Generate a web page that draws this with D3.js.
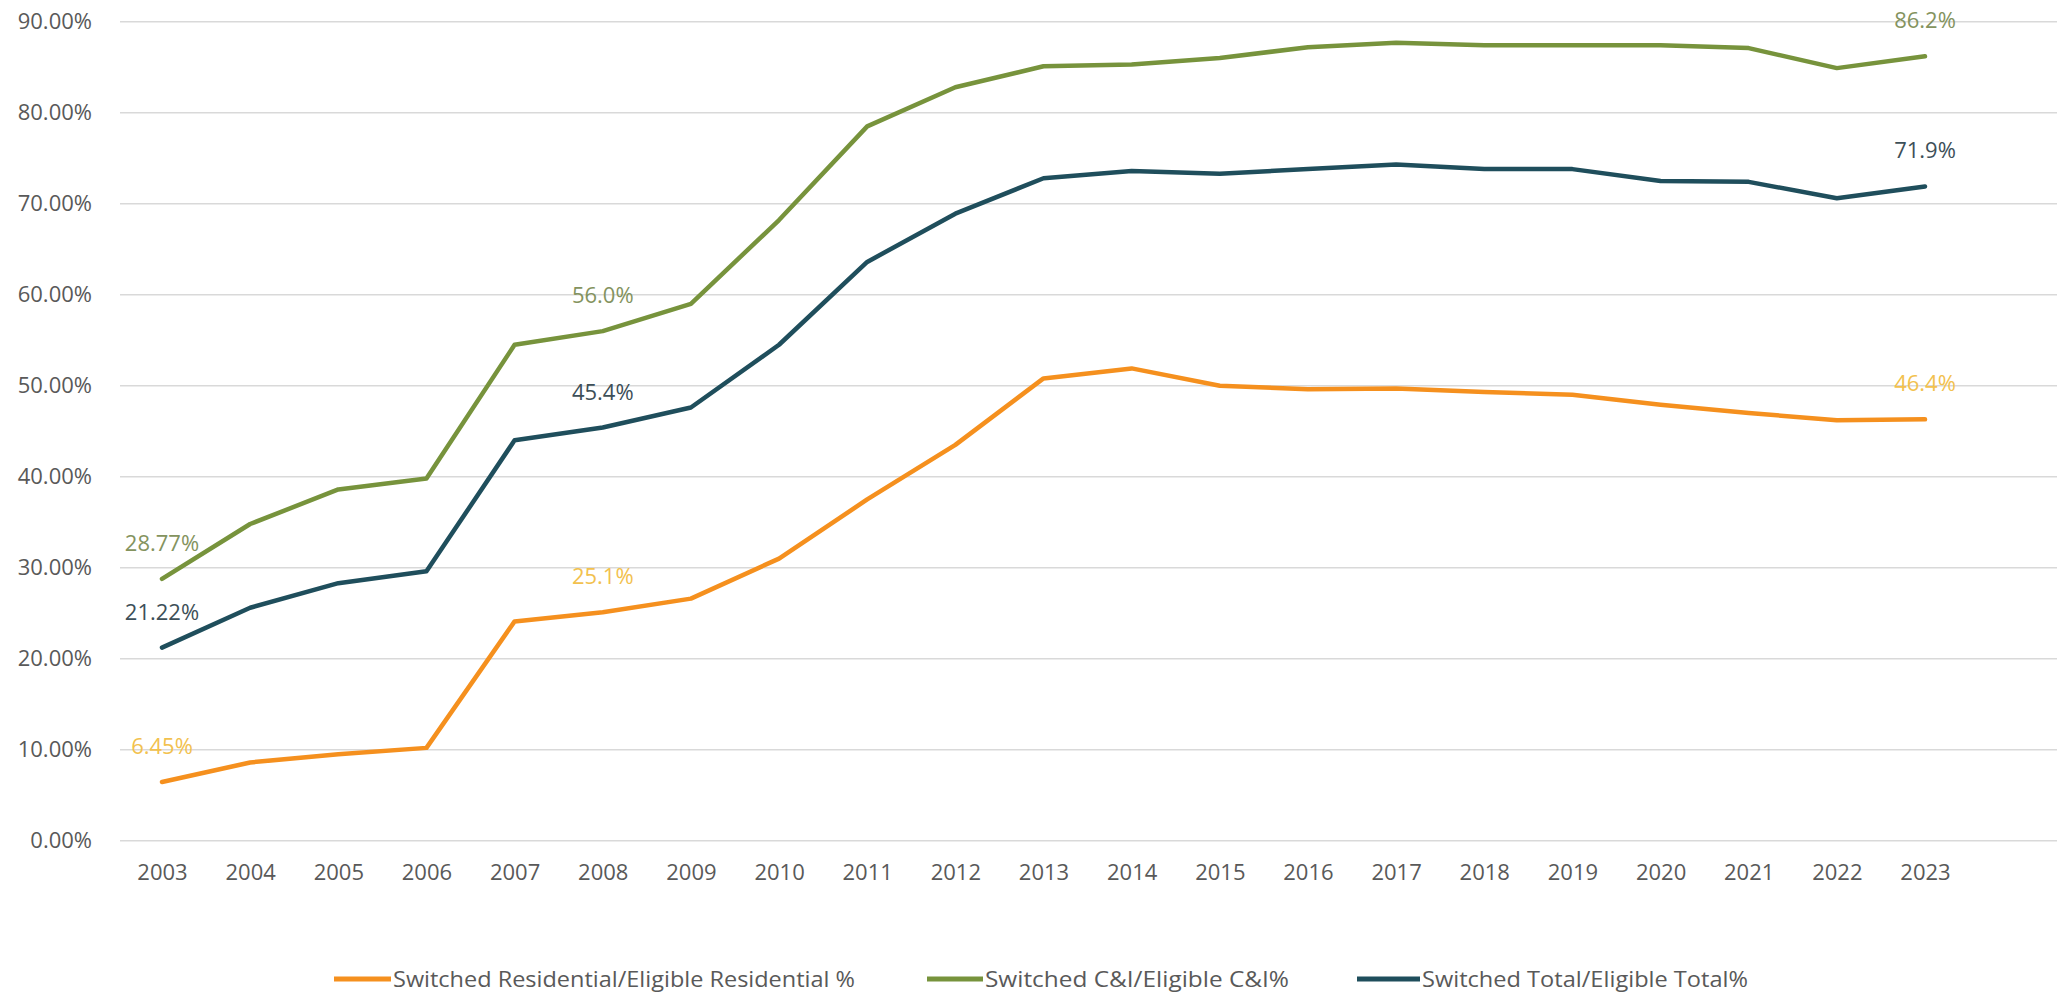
<!DOCTYPE html>
<html>
<head>
<meta charset="utf-8">
<script src="https://cdn.jsdelivr.net/npm/d3@7"></script>
<style>
  html, body { margin: 0; padding: 0; background: #ffffff; }
  svg { display: block; font-family: "Open Sans", sans-serif; }
</style>
</head>
<body>
<svg id="chart" width="2059" height="997"></svg>
<script>
const years = [2003,2004,2005,2006,2007,2008,2009,2010,2011,2012,2013,2014,2015,2016,2017,2018,2019,2020,2021,2022,2023];
const residential = [6.45,8.6,9.5,10.2,24.1,25.1,26.6,31.0,37.5,43.5,50.8,51.9,50.0,49.6,49.7,49.3,49.0,47.9,47.0,46.2,46.3];
const commercial  = [28.77,34.8,38.6,39.8,54.5,56.0,59.0,68.2,78.5,82.8,85.1,85.3,86.0,87.2,87.7,87.4,87.4,87.4,87.1,84.9,86.2];
const total       = [21.22,25.6,28.3,29.6,44.0,45.4,47.6,54.5,63.6,68.9,72.8,73.6,73.3,73.8,74.3,73.8,73.8,72.5,72.4,70.6,71.9];
const yTicks = [0,10,20,30,40,50,60,70,80,90];
const seriesNames = ["Switched Residential/Eligible Residential %", "Switched C&I/Eligible C&I%", "Switched Total/Eligible Total%"];
const labelIndex = [0, 5, 20];
const residentialLabels = ["6.45%", "25.1%", "46.4%"];
const commercialLabels  = ["28.77%", "56.0%", "86.2%"];
const totalLabels       = ["21.22%", "45.4%", "71.9%"];

const series = [
  {name: seriesNames[0], values: residential, labels: residentialLabels, color: "#f5901e", labelColor: "#f2c14e"},
  {name: seriesNames[1], values: commercial,  labels: commercialLabels,  color: "#77933c", labelColor: "#84935e"},
  {name: seriesNames[2], values: total,       labels: totalLabels,       color: "#1f4e5c", labelColor: "#3d4f58"}
];

const svg = d3.select("#chart");
const x = d3.scalePoint().domain(years).range([162, 1925]);
const y = d3.scaleLinear().domain([0, 90]).range([840.7, 21.7]);
const gridLeft = 120, gridRight = 2057;

// gridlines
svg.append("g").selectAll("line").data(yTicks).join("line")
  .attr("x1", gridLeft).attr("x2", gridRight)
  .attr("y1", d => y(d)).attr("y2", d => y(d))
  .attr("stroke", "#d9d9d9").attr("stroke-width", 1.6);

// y axis labels
const yAxis = d3.axisLeft(y).tickValues(yTicks).tickSize(0).tickPadding(0)
  .tickFormat(d => d.toFixed(2) + "%");
svg.append("g").attr("transform", "translate(92,0)").call(yAxis)
  .call(g => g.select(".domain").remove())
  .selectAll("text").attr("font-size", 22).attr("fill", "#595959")
  .attr("font-family", "Open Sans, sans-serif");

// x axis labels
const xAxis = d3.axisBottom(x).tickSize(0).tickPadding(0).tickFormat(d => String(d));
svg.append("g").attr("transform", "translate(0,864)").call(xAxis)
  .call(g => g.select(".domain").remove())
  .selectAll("text").attr("font-size", 22).attr("fill", "#595959")
  .attr("font-family", "Open Sans, sans-serif").attr("dy", "0.71em");

// lines
const line = d3.line().x((d, i) => x(years[i])).y(d => y(d)).curve(d3.curveLinear);
svg.append("g").selectAll("path").data(series).join("path")
  .attr("d", s => line(s.values))
  .attr("fill", "none").attr("stroke", s => s.color)
  .attr("stroke-width", 4.5).attr("stroke-linejoin", "round").attr("stroke-linecap", "round");

// data labels
series.forEach(s => {
  svg.append("g").selectAll("text").data(labelIndex).join("text")
    .attr("x", i => x(years[i]))
    .attr("y", i => y(s.values[i]) - 28)
    .attr("text-anchor", "middle")
    .attr("font-size", 22).attr("fill", s.labelColor)
    .text((i, k) => s.labels[k]);
});

// legend
const legendItems = [
  {x0: 334, tx: 393, w: 462},
  {x0: 927, tx: 985, w: 304},
  {x0: 1357, tx: 1422, w: 326}
];
const legendY = 979;
const lg = svg.append("g");
series.forEach((s, i) => {
  const it = legendItems[i];
  lg.append("line").attr("x1", it.x0).attr("x2", it.tx - 2)
    .attr("y1", legendY).attr("y2", legendY)
    .attr("stroke", s.color).attr("stroke-width", 5);
  lg.append("text").attr("x", it.tx).attr("y", legendY + 8)
    .attr("font-size", 22).attr("fill", "#595959")
    .attr("textLength", it.w).attr("lengthAdjust", "spacingAndGlyphs")
    .text(s.name);
});
</script>
</body>
</html>
